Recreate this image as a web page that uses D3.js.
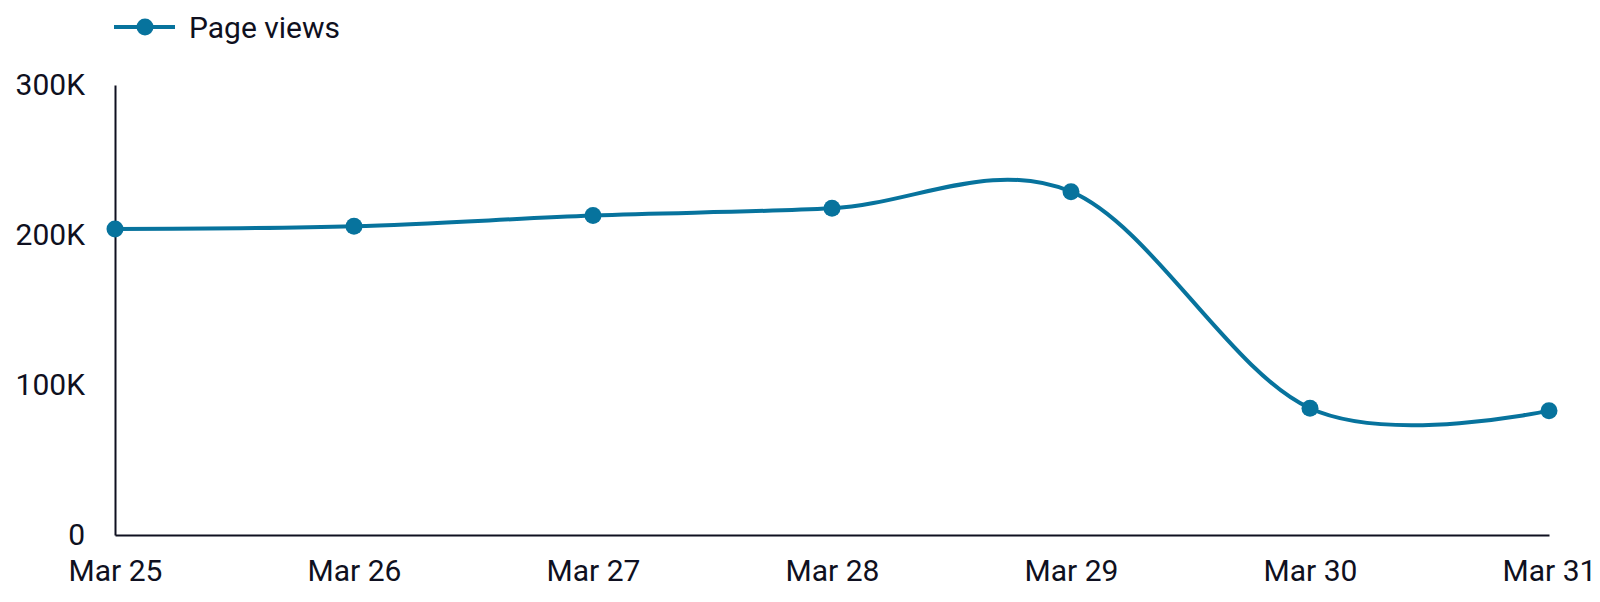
<!DOCTYPE html>
<html>
<head>
<meta charset="utf-8">
<script src="https://cdn.jsdelivr.net/npm/d3@7"></script>
<style>
	body { margin: 0; background: #fff; }
	svg { display: block; font-family: Roboto, sans-serif; }
</style>
</head>
<body>
<svg width="1600" height="602"></svg>
<script>
var days = ['Mar 25', 'Mar 26', 'Mar 27', 'Mar 28', 'Mar 29', 'Mar 30', 'Mar 31'];
var pageViews = [204000, 205800, 213000, 217800, 228900, 84500, 82900];
var yTicks = [0, 100000, 200000, 300000];
var yTickLabels = ['0', '100K', '200K', '300K'];
var seriesName = 'Page views';

var lineColor = '#07739d';
var inkColor = '#0f1020';
var fontSize = 30;

var svg = d3.select('svg'),
	x = d3.scalePoint().domain(days).range([115, 1549]),
	y = d3.scaleLinear().domain([0, 300000]).range([535, 85]);

// y axis
var gy = svg.append('g')
	.attr('transform', 'translate(115,0)')
	.call(d3.axisLeft(y)
		.tickValues(yTicks)
		.tickFormat(function(d, i) { return yTickLabels[i]; })
		.tickSize(0)
		.tickPadding(30));
gy.select('.domain').attr('stroke', inkColor).attr('stroke-width', 2);
gy.selectAll('text')
	.attr('fill', inkColor)
	.attr('font-size', fontSize)
	.attr('font-family', 'Roboto, sans-serif');

// x axis
var gx = svg.append('g')
	.attr('transform', 'translate(0,535)')
	.call(d3.axisBottom(x).tickSize(0).tickPadding(25));
gx.select('.domain').attr('stroke', inkColor).attr('stroke-width', 2);
gx.selectAll('text')
	.attr('fill', inkColor)
	.attr('font-size', fontSize)
	.attr('font-family', 'Roboto, sans-serif');

// line
var line = d3.line()
	.x(function(d, i) { return x(days[i]); })
	.y(function(d) { return y(d); })
	.curve(d3.curveCardinal.tension(0));

svg.append('path')
	.datum(pageViews)
	.attr('fill', 'none')
	.attr('stroke', lineColor)
	.attr('stroke-width', 4)
	.attr('stroke-linejoin', 'round')
	.attr('stroke-linecap', 'round')
	.attr('d', line);

svg.selectAll('circle.pt')
	.data(pageViews)
	.enter().append('circle')
	.attr('class', 'pt')
	.attr('cx', function(d, i) { return x(days[i]); })
	.attr('cy', function(d) { return y(d); })
	.attr('r', 8.5)
	.attr('fill', lineColor);

// legend
var lg = svg.append('g').attr('transform', 'translate(114,27)');
lg.append('line')
	.attr('x1', 0).attr('x2', 61)
	.attr('stroke', lineColor)
	.attr('stroke-width', 4);
lg.append('circle')
	.attr('cx', 31).attr('r', 8.5)
	.attr('fill', lineColor);
lg.append('text')
	.attr('x', 75)
	.attr('dy', '0.35em')
	.attr('fill', inkColor)
	.attr('font-size', fontSize)
	.text(seriesName);
</script>
</body>
</html>
